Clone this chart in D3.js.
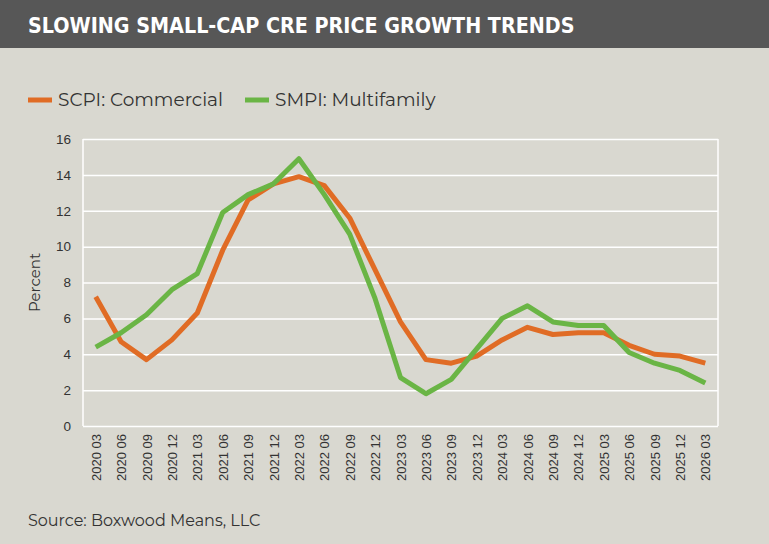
<!DOCTYPE html>
<html><head><meta charset="utf-8">
<script src="https://cdn.jsdelivr.net/npm/d3@7.9.0/dist/d3.min.js"></script>
<style>body{margin:0;background:#d9d8d0;} svg{display:block;font-family:Montserrat,"Open Sans",sans-serif;}</style>
</head><body><svg id="chart"></svg>
<script>
const quarters = ['2020 03','2020 06','2020 09','2020 12','2021 03','2021 06','2021 09','2021 12','2022 03','2022 06','2022 09','2022 12','2023 03','2023 06','2023 09','2023 12','2024 03','2024 06','2024 09','2024 12','2025 03','2025 06','2025 09','2025 12','2026 03'];
const scpi = [7.2,4.7,3.7,4.8,6.3,9.8,12.6,13.5,13.9,13.4,11.6,8.7,5.8,3.7,3.5,3.9,4.8,5.5,5.1,5.2,5.2,4.5,4.0,3.9,3.5];
const smpi = [4.4,5.2,6.2,7.6,8.5,11.9,12.9,13.5,14.9,12.9,10.7,7.1,2.7,1.8,2.6,4.3,6.0,6.7,5.8,5.6,5.6,4.1,3.5,3.1,2.4];
const series = [
  {name:'SCPI: Commercial', values:scpi, color:'#e06c25'},
  {name:'SMPI: Multifamily', values:smpi, color:'#6ab545'}
];
const width = 769, height = 544;
const svg = d3.select('#chart').attr('width', width).attr('height', height);

svg.append('rect').attr('width', width).attr('height', 48).attr('fill', '#575757');
svg.append('text').attr('x', 28).attr('y', 33).attr('fill', '#fff')
  .style('font-family', '"DejaVu Sans Condensed","Liberation Sans Narrow",sans-serif')
  .style('font-weight', 'bold').style('font-size', '21.3px')
  .text('SLOWING SMALL-CAP CRE PRICE GROWTH TRENDS');

// legend
let lx = 28;
series.forEach(s => {
  svg.append('line').attr('x1', lx).attr('x2', lx + 24).attr('y1', 100).attr('y2', 100)
    .attr('stroke', s.color).attr('stroke-width', 5);
  const t = svg.append('text').attr('x', lx + 30).attr('y', 106).attr('font-size', 18.5).attr('fill', '#333').text(s.name);
  lx += 30 + t.node().getComputedTextLength() + 22;
});

const area = {left: 83, right: 718, top: 139, bottom: 426};
const x = d3.scalePoint().domain(quarters).range([area.left, area.right]).padding(0.5);
const y = d3.scaleLinear().domain([0, 16]).range([area.bottom, area.top]);

// grid
svg.append('g').attr('transform', `translate(${area.left},0)`)
  .call(d3.axisLeft(y).ticks(8).tickSize(-(area.right - area.left)).tickFormat(''))
  .call(g => g.select('.domain').remove())
  .call(g => g.selectAll('line').attr('stroke', '#fff').attr('stroke-width', 1.5));
[area.left, area.right].forEach(v => svg.append('line').attr('x1', v).attr('x2', v)
  .attr('y1', area.top).attr('y2', area.bottom).attr('stroke', '#fff').attr('stroke-width', 1.5));

// y labels
svg.append('g').attr('transform', `translate(${area.left},0)`)
  .call(d3.axisLeft(y).ticks(8).tickSize(0).tickPadding(12))
  .call(g => g.select('.domain').remove())
  .call(g => g.selectAll('text').attr('font-size', 13.5).attr('fill', '#333').style('font-family', 'inherit'));
svg.append('text').attr('transform', `translate(40,${(area.top + area.bottom) / 2}) rotate(-90)`)
  .attr('text-anchor', 'middle').attr('font-size', 15).attr('fill', '#333').text('Percent');

// x labels
svg.append('g').attr('transform', `translate(0,${area.bottom})`)
  .call(d3.axisBottom(x).tickSize(0))
  .call(g => g.select('.domain').remove())
  .call(g => g.selectAll('text').attr('font-size', 13).attr('fill', '#333').style('font-family', 'inherit')
    .attr('text-anchor', 'end').attr('dy', '0.35em').attr('dx', 0)
    .attr('transform', 'translate(0,8) rotate(-90)').attr('y', 0).attr('x', 0));

const line = d3.line().x((d, i) => x(quarters[i])).y(d => y(d));
series.forEach(s => svg.append('path').datum(s.values).attr('d', line)
  .attr('fill', 'none').attr('stroke', s.color).attr('stroke-width', 5).attr('stroke-linejoin', 'round'));

svg.append('text').attr('x', 28).attr('y', 526).attr('font-size', 16).attr('fill', '#333').text('Source: Boxwood Means, LLC');
</script></body></html>
